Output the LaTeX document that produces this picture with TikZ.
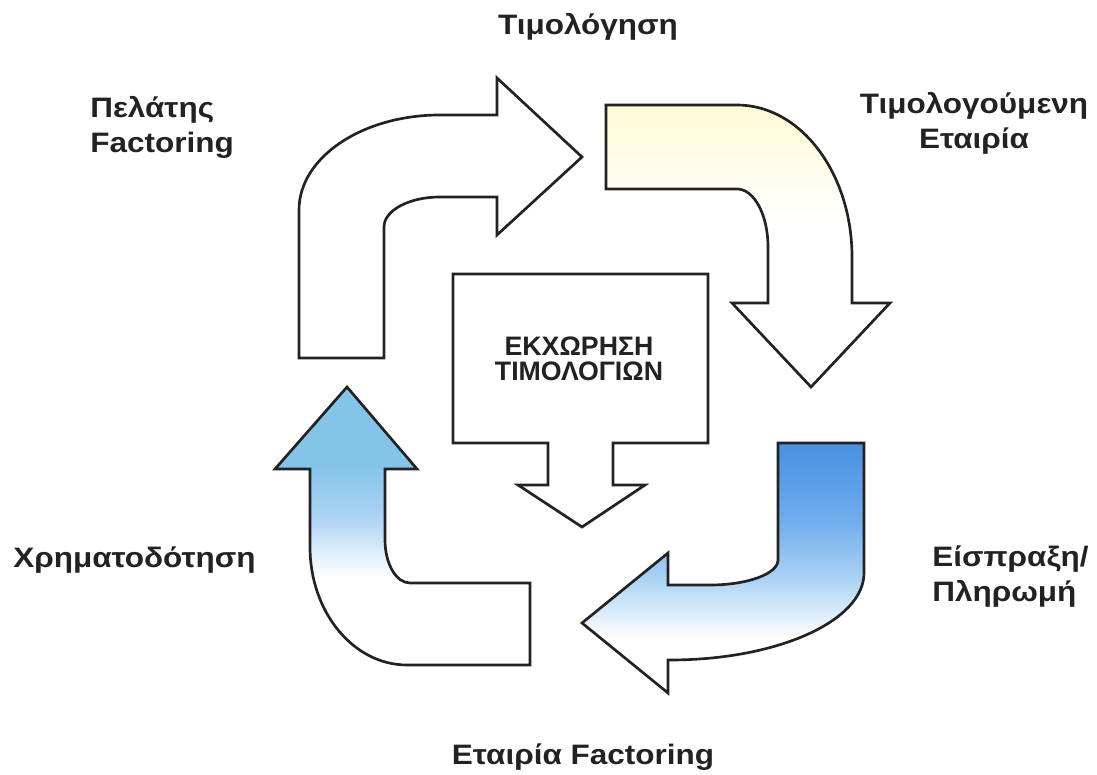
\documentclass[tikz,border=0pt]{standalone}
\usepackage{fontspec}
\setmainfont{Liberation Sans}
\newfontfamily\lblfont[FakeStretch=1.12]{Liberation Sans}
\usetikzlibrary{calc}
\definecolor{lineg}{RGB}{34,34,34}
\definecolor{bluetop}{RGB}{72,144,226}
\definecolor{bluemed}{RGB}{110,172,236}
\definecolor{bluemid}{RGB}{170,210,244}
\definecolor{bluehead}{RGB}{132,196,232}
\definecolor{paleyel}{RGB}{255,250,212}
% fades (path bounding box sits between 25bp and 75bp)
\pgfdeclareverticalshading{yelfade}{100bp}{color(0bp)=(white); color(54bp)=(white); color(75bp)=(paleyel); color(100bp)=(paleyel)}
\pgfdeclareverticalshading{brfade}{100bp}{color(0bp)=(white); color(36bp)=(white); color(48bp)=(bluemid); color(60bp)=(bluemed); color(75bp)=(bluetop); color(100bp)=(bluetop)}
\pgfdeclareverticalshading{blfade}{100bp}{color(0bp)=(white); color(41bp)=(white); color(52bp)=(bluemid); color(61bp)=(bluehead); color(100bp)=(bluehead)}
\tikzset{
	bigarrow/.style={draw=lineg, line width=1.9pt},
	lbl/.style={font=\lblfont\bfseries\fontsize{20}{25}\selectfont, text=lineg, inner sep=0pt},
	boxlbl/.style={font=\bfseries\fontsize{19}{18}\selectfont, text=lineg, inner sep=0pt, align=center}
}

\begin{document}
\begin{tikzpicture}[x=2.5mm, y=2.5mm]
	%%%%% START %%%%%
	\useasboundingbox (0, 0) rectangle (109.7, 77.5);
	
	% top left arrow
	\draw[bigarrow, fill=white] (29.9, 41.7) -- (29.9, 56.5) arc[start angle=180, end angle=90, x radius=14.1, y radius=9.5] -- (49.7, 66.0) -- (49.7, 69.7) -- (58.2, 61.8) -- (49.7, 54.0) -- (49.7, 57.8) -- (44.0, 57.8) arc[start angle=90, end angle=180, x radius=5.6, y radius=3.0] -- (38.4, 41.7) -- cycle;
	
	% top right arrow
	\draw[bigarrow, shading=yelfade] (60.6, 67.0) -- (73.7, 67.0) arc[start angle=90, end angle=0, x radius=11.5, y radius=15.2] -- (85.2, 47.2) -- (89.0, 47.2) -- (81.1, 38.8) -- (73.2, 47.2) -- (76.8, 47.2) -- (76.8, 52.8) arc[start angle=0, end angle=90, x radius=3.1, y radius=5.8] -- (60.6, 58.6) -- cycle;
	
	% bottom right arrow
	\draw[bigarrow, shading=brfade] (77.8, 33.2) -- (86.4, 33.2) -- (86.4, 20.2) arc[start angle=0, end angle=-90, x radius=19.4, y radius=8.7] -- (66.8, 11.5) -- (66.8, 8.2) -- (58.2, 15.2) -- (66.8, 22.2) -- (66.8, 19.0) -- (71.0, 19.0) arc[start angle=270, end angle=360, x radius=6.8, y radius=2.5] -- cycle;
	
	% bottom left arrow
	\draw[bigarrow, shading=blfade] (34.7, 38.8) -- (41.7, 30.6) -- (38.5, 30.6) -- (38.5, 23.5) arc[start angle=180, end angle=270, x radius=2.5, y radius=4.3] -- (53.0, 19.2) -- (53.0, 11.0) -- (40.7, 11.0) arc[start angle=270, end angle=180, x radius=9.7, y radius=11.8] -- (31.0, 30.6) -- (27.5, 30.6) -- cycle;
	
	% box with its down arrow
	\draw[bigarrow, fill=white] (45.3, 50.1) -- (70.8, 50.1) -- (70.8, 33.2) -- (61.3, 33.2) -- (61.3, 29.0) -- (64.5, 29.0) -- (58.2, 24.8) -- (51.8, 29.0) -- (54.8, 29.0) -- (54.8, 33.2) -- (45.3, 33.2) -- cycle;
	\node[boxlbl] (assign) at (57.9, 41.6) {ΕΚΧΩΡΗΣΗ\\ΤΙΜΟΛΟΓΙΩΝ};
	
	% labels (base = last line)
	\node[lbl, anchor=base] (invoicing) at (58.8, 74.0) {Τιμολόγηση};
	\node[lbl, anchor=base west, align=left] (client) at (9.0, 62.2) {Πελάτης\\Factoring};
	\node[lbl, anchor=base, align=center] (invoiced) at (97.4, 62.6) {Τιμολογούμενη\\Εταιρία};
	\node[lbl, anchor=base west, align=left] (payment) at (93.2, 17.3) {Είσπραξη/\\Πληρωμή};
	\node[lbl, anchor=base west] (funding) at (1.3, 20.7) {Χρηματοδότηση};
	\node[lbl, anchor=base] (factor) at (58.3, 1.0) {Εταιρία Factoring};
	
	%%%%% END %%%%%
\end{tikzpicture}
\end{document}
